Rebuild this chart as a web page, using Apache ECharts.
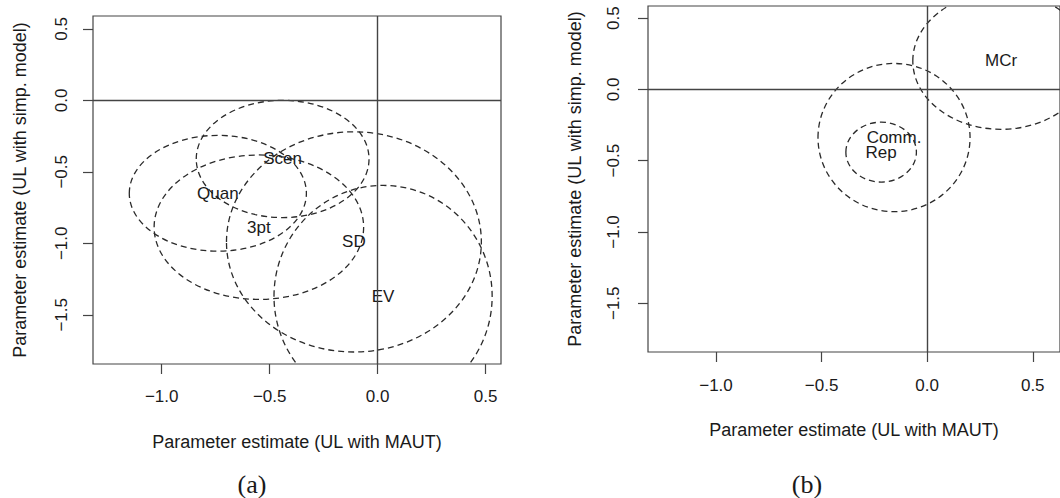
<!DOCTYPE html>
<html>
<head>
<meta charset="utf-8">
<script src="https://cdn.jsdelivr.net/npm/echarts@6/dist/echarts.min.js"></script>
<style>
html,body{margin:0;padding:0;background:#fff;}
#chart{width:1060px;height:498px;}
</style>
</head>
<body>
<div id="chart"></div>
<script>
// ---- Panel (a) data: estimate centre (MAUT, simp. model) and ellipse half-widths ----
const labelsA = ['Scen', 'Quan', '3pt', 'SD', 'EV'];
const maautA  = [-0.44, -0.74, -0.55, -0.11, 0.025];
const simpA   = [-0.41, -0.65, -0.887, -0.99, -1.37];
const halfXA  = [0.40, 0.41, 0.485, 0.59, 0.505];
const halfYA  = [0.41, 0.405, 0.505, 0.77, 0.775];

// ---- Panel (b) data ----
const labelsB = ['Comm.', 'Rep', 'MCr'];
const maautB  = [-0.157, -0.218, 0.35];
const simpB   = [-0.338, -0.44, 0.20];
const halfXB  = [0.36, 0.167, 0.418];
const halfYB  = [0.52, 0.21, 0.48];

// ---- Axis ticks & reference lines ----
const xTicks = [-1.0, -0.5, 0.0, 0.5];
const yTicks = [-1.5, -1.0, -0.5, 0.0, 0.5];
const refLines = [0];

const xTitle = 'Parameter estimate (UL with MAUT)';
const yTitle = 'Parameter estimate (UL with simp. model)';
const captions = ['(a)', '(b)'];

const FONT = 'Liberation Sans, Arial, Helvetica, sans-serif';
const TXT = '#1a1a1a';
const LINE = '#444';

function fmt(v) {
  return v.toFixed(1).replace('-', '\u2212');
}

function rows(xs, ys, hx, hy) {
  return xs.map((x, i) => [x, ys[i], hx[i], hy[i]]);
}

function makeRender(labels) {
  return function (params, api) {
    const c = api.coord([api.value(0), api.value(1)]);
    const s = api.size([api.value(2), api.value(3)]);
    const cs = params.coordSys;
    return {
      type: 'group',
      clipPath: { type: 'rect', shape: { x: cs.x, y: cs.y, width: cs.width, height: cs.height } },
      children: [
        {
          type: 'ellipse',
          shape: { cx: c[0], cy: c[1], rx: s[0], ry: s[1] },
          style: { fill: 'none', stroke: '#2a2a2a', lineWidth: 1.3, lineDash: [6, 4] }
        },
        {
          type: 'text',
          x: c[0], y: c[1],
          style: {
            text: labels[params.dataIndex],
            fill: TXT, fontSize: 17, fontFamily: FONT,
            align: 'center', verticalAlign: 'middle'
          }
        }
      ]
    };
  };
}

function xAxisCfg(gi, min, max, labelMargin) {
  return {
    type: 'value', gridIndex: gi, min: min, max: max,
    axisLine: { show: false, onZero: false },
    axisTick: { show: true, customValues: xTicks, length: 10, lineStyle: { color: LINE, width: 1.2 } },
    axisLabel: { customValues: xTicks, formatter: fmt, fontSize: 17, fontFamily: FONT, color: TXT, margin: labelMargin },
    splitLine: { show: false },
    name: xTitle, nameLocation: 'middle', nameGap: 69,
    nameTextStyle: { fontSize: 18, fontFamily: FONT, color: TXT }
  };
}

function yAxisCfg(gi, min, max, labelMargin) {
  return {
    type: 'value', gridIndex: gi, min: min, max: max,
    axisLine: { show: false, onZero: false },
    axisTick: { show: true, customValues: yTicks, length: 10, lineStyle: { color: LINE, width: 1.2 } },
    axisLabel: { customValues: yTicks, formatter: fmt, rotate: 90, fontSize: 17, fontFamily: FONT, color: TXT, margin: labelMargin },
    splitLine: { show: false },
    name: yTitle, nameLocation: 'middle', nameRotate: 90, nameGap: 64,
    nameTextStyle: { fontSize: 18, fontFamily: FONT, color: TXT }
  };
}

function refMark() {
  return {
    silent: true, symbol: ['none', 'none'], animation: false,
    label: { show: false },
    lineStyle: { type: 'solid', color: LINE, width: 1.4 },
    data: refLines.map(v => ({ xAxis: v })).concat(refLines.map(v => ({ yAxis: v })))
  };
}

const chart = echarts.init(document.getElementById('chart'), null, { renderer: 'svg' });
chart.setOption({
  animation: false,
  backgroundColor: '#fff',
  grid: [
    { left: 93, top: 16, width: 408, height: 348, show: true, borderColor: LINE, borderWidth: 1.2, backgroundColor: 'transparent' },
    { left: 648, top: 6, width: 420, height: 346, show: true, borderColor: LINE, borderWidth: 1.2, backgroundColor: 'transparent' }
  ],
  xAxis: [
    xAxisCfg(0, -1.318, 0.571, 24),
    xAxisCfg(1, -1.322, 0.629, 25)
  ],
  yAxis: [
    yAxisCfg(0, -1.844, 0.59, 23),
    yAxisCfg(1, -1.842, 0.585, 26)
  ],
  graphic: [
    { type: 'text', x: 252, y: 484, style: { text: captions[0], fontSize: 26, fontFamily: 'Liberation Serif, DejaVu Serif, serif', fill: TXT, align: 'center', verticalAlign: 'middle' } },
    { type: 'text', x: 807, y: 484, style: { text: captions[1], fontSize: 26, fontFamily: 'Liberation Serif, DejaVu Serif, serif', fill: TXT, align: 'center', verticalAlign: 'middle' } }
  ],
  series: [
    {
      type: 'custom', xAxisIndex: 0, yAxisIndex: 0,
      renderItem: makeRender(labelsA),
      data: rows(maautA, simpA, halfXA, halfYA),
      encode: { x: 0, y: 1 },
      clip: true,
      markLine: refMark()
    },
    {
      type: 'custom', xAxisIndex: 1, yAxisIndex: 1,
      renderItem: makeRender(labelsB),
      data: rows(maautB, simpB, halfXB, halfYB),
      encode: { x: 0, y: 1 },
      clip: true,
      markLine: refMark()
    }
  ]
});
</script>
</body>
</html>
